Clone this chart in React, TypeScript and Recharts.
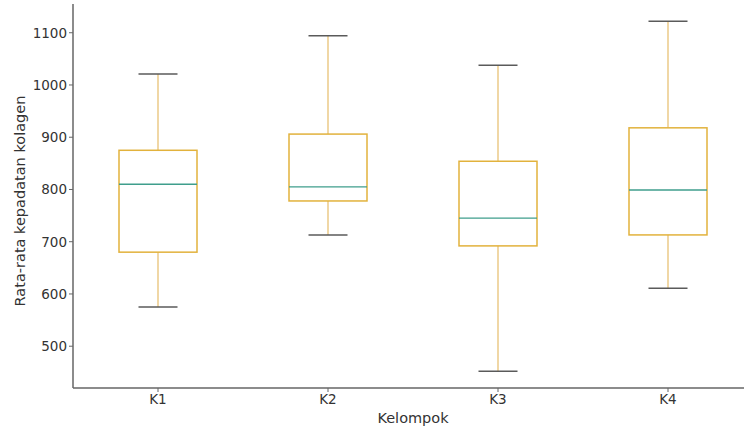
import { ComposedChart, Bar, XAxis, YAxis } from 'recharts';

const groups = ['K1', 'K2', 'K3', 'K4'];
const whiskerLow = [575, 713, 452, 611];
const q1 = [680, 778, 692, 713];
const median = [810, 805, 745, 799];
const q3 = [875, 906, 854, 918];
const whiskerHigh = [1021, 1094, 1038, 1122];
const yTicks = [500, 600, 700, 800, 900, 1000, 1100];

const BOX = '#e2b23c';
const WHISKER = '#e6bc6a';
const CAP = '#5a5a5a';
const MEDIAN = '#3f9e8c';
const AXIS = '#666';
const FONT = 'DejaVu Sans, sans-serif';

const data = groups.map((name, i) => ({
  name,
  min: whiskerLow[i],
  q1: q1[i],
  med: median[i],
  q3: q3[i],
  max: whiskerHigh[i],
}));

type Row = (typeof data)[number];

function BoxShape(props: any) {
  const { x, y, width, height, payload } = props;
  const p = payload as Row;
  const top = Math.min(y, y + height);
  const h = Math.abs(height);
  // range bar spans min..max, so inner values map linearly inside it
  const yOf = (v: number) => top + (h * (p.max - v)) / (p.max - p.min);
  const cx = x + width / 2;
  const capHalf = width / 4;
  return (
    <g>
      <line x1={cx} x2={cx} y1={yOf(p.max)} y2={yOf(p.q3)} stroke={WHISKER} strokeWidth={1.2} />
      <line x1={cx} x2={cx} y1={yOf(p.q1)} y2={yOf(p.min)} stroke={WHISKER} strokeWidth={1.2} />
      <line x1={cx - capHalf} x2={cx + capHalf} y1={yOf(p.max)} y2={yOf(p.max)} stroke={CAP} strokeWidth={1.5} />
      <line x1={cx - capHalf} x2={cx + capHalf} y1={yOf(p.min)} y2={yOf(p.min)} stroke={CAP} strokeWidth={1.5} />
      <rect
        x={x}
        y={yOf(p.q3)}
        width={width}
        height={yOf(p.q1) - yOf(p.q3)}
        fill="none"
        stroke={BOX}
        strokeWidth={1.5}
      />
      <line x1={x} x2={x + width} y1={yOf(p.med)} y2={yOf(p.med)} stroke={MEDIAN} strokeWidth={1.3} />
    </g>
  );
}

export default function App() {
  return (
    <div
      style={{
        position: 'absolute',
        left: 0,
        top: 0,
        width: 744,
        height: 428,
        overflow: 'hidden',
        background: '#fff',
        fontFamily: FONT,
      }}
    >
      <ComposedChart
        width={760}
        height={428}
        data={data}
        margin={{ top: 4, right: 7, left: 13, bottom: 0 }}
      >
        <XAxis
          dataKey="name"
          height={40}
          tickSize={4}
          stroke={AXIS}
          tick={{ fill: '#333', fontSize: 13.5, fontFamily: FONT }}
          axisLine={{ stroke: AXIS, strokeWidth: 1.5 }}
          label={{ value: 'Kelompok', position: 'insideBottom', offset: 5, fill: '#333', fontSize: 14.5, fontFamily: FONT }}
        />
        <YAxis
          type="number"
          domain={[420, 1155]}
          ticks={yTicks}
          width={60}
          tickSize={4}
          stroke={AXIS}
          tick={{ fill: '#333', fontSize: 13.5, fontFamily: FONT }}
          axisLine={{ stroke: AXIS, strokeWidth: 1.5 }}
          label={{
            content: () => (
              <text
                x={20}
                y={201}
                transform="rotate(-90, 20, 201)"
                textAnchor="middle"
                dominantBaseline="central"
                fill="#333"
                fontSize={14.5}
                fontFamily={FONT}
              >
                Rata-rata kepadatan kolagen
              </text>
            ),
          }}
        />
        <Bar
          dataKey={(d: Row) => [d.min, d.max]}
          barSize={78}
          shape={<BoxShape />}
          isAnimationActive={false}
        />
      </ComposedChart>
    </div>
  );
}
